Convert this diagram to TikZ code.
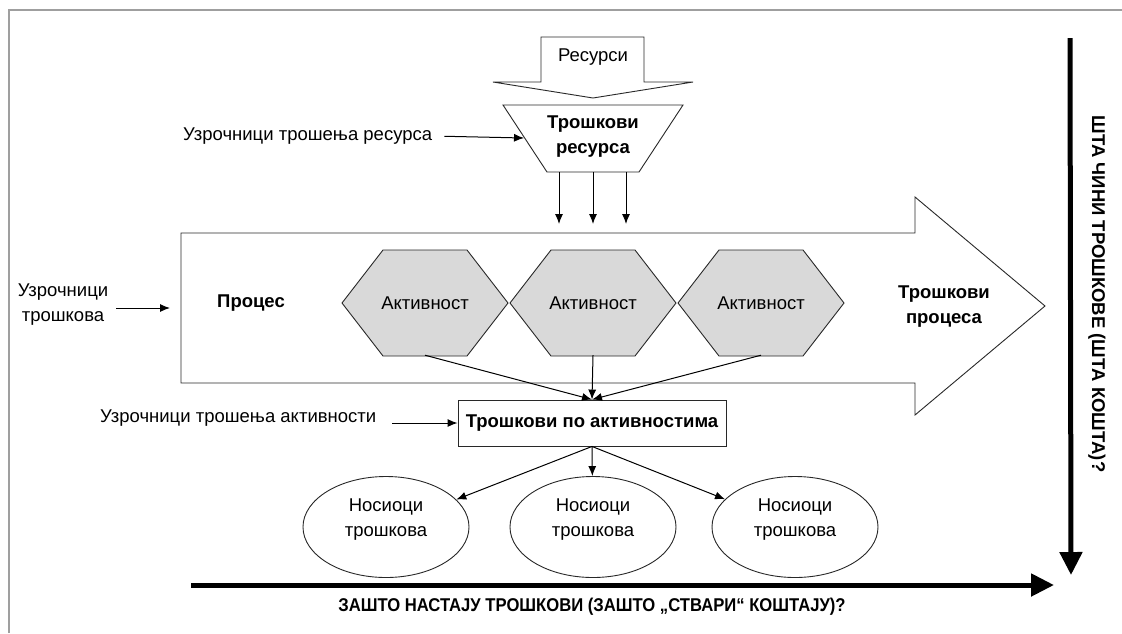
\documentclass[tikz,border=0pt]{standalone}
\usepackage{fontspec}
\setmainfont{Liberation Sans}
\newfontfamily\narrowbold[FakeStretch=0.90]{Liberation Sans}
\usetikzlibrary{arrows.meta,calc,shapes.geometric}
\definecolor{hexgray}{RGB}{217,217,217}
\definecolor{edge}{RGB}{40,40,40}
\tikzset{
  txt/.style={font=\fontsize{18.5}{25}\selectfont, inner sep=0pt, align=center},
  bld/.style={font=\fontsize{18.5}{25}\selectfont\bfseries, inner sep=0pt, align=center},
  outline/.style={draw=edge, line width=0.9pt},
  arr/.style={draw=black, line width=1pt, -{Latex[length=10pt,width=8pt]}},
  bigarr/.style={draw=black, line width=5pt, -{Triangle[length=23pt,width=22pt]}},
  hexbox/.style={minimum width=166pt, minimum height=104pt, inner sep=0pt, font=\fontsize{18.5}{25}\selectfont},
  carrier/.style={ellipse, outline, minimum width=166pt, minimum height=101pt, inner sep=0pt},
}
\begin{document}
\begin{tikzpicture}[x=1pt,y=-1pt]
\useasboundingbox (0,0) rectangle (1122,633);
\fill[white] (0,0) rectangle (1122,633);

% page frame
\draw[gray!75, line width=2pt] (9,633) -- (9,10) -- (1122,10);

% resources: block arrow pointing down
\draw[outline, fill=white] (541,37) -- (644,37) -- (644,82) -- (693,82) -- (593,98)
  -- (493,82) -- (541,82) -- cycle;
\node[txt] (res) at (593,57) {Ресурси};

% resource costs: trapezium
\draw[outline, fill=white] (503,105) -- (683,105) -- (639,172) -- (547,172) -- cycle;
\node[bld] (rc) at (593,137) {Трошкови\\ресурса};
\coordinate (rcL) at (524,138);
\coordinate (rcB1) at (559,172);
\coordinate (rcB2) at (593,172);
\coordinate (rcB3) at (626,172);
\coordinate (pT1) at (559,224);
\coordinate (pT2) at (593,224);
\coordinate (pT3) at (626,224);

% process: large block arrow
\draw[outline, fill=white] (181,233) -- (915,233) -- (915,197) -- (1045,306)
  -- (915,415) -- (915,383) -- (181,383) -- cycle;
\coordinate (procL) at (181,308);
\node[bld] (proc) at (251,303) {Процес};
\node[bld] (pcost) at (944,307) {Трошкови\\процеса};

% activities: hexagons
\foreach \n/\cx in {a1/425, a2/593, a3/761} {
  \draw[outline, fill=hexgray] (\cx-83,303) -- (\cx-42,250) -- (\cx+42,250)
    -- (\cx+83,303) -- (\cx+42,356) -- (\cx-42,356) -- cycle;
  \node[hexbox] (\n) at (\cx,303) {Активност};
}

% activity costs
\node[bld, outline, minimum width=268pt, minimum height=46pt] (ac) at (592,423)
  {Трошкови по активностима};

% cost carriers
\foreach \n/\cx in {c1/386, c2/593, c3/795} {
  \node[carrier] (\n) at (\cx,527) {};
  \node[txt] (\n t) at (\cx,520) {Носиоци\\трошкова};
}

% drivers
\node[txt, anchor=west] (d1) at (183,136) {Узрочници трошења ресурса};
\node[txt] (d0) at (63,305) {Узрочници\\трошкова};
\node[txt, anchor=west] (d2) at (100,418) {Узрочници трошења активности};

% connectors
\draw[arr, shorten <=12pt] (d1.east) -- (rcL);
\draw[arr] (rcB1) -- (pT1);
\draw[arr] (rcB2) -- (pT2);
\draw[arr] (rcB3) -- (pT3);
\draw[arr, shorten <=8pt, shorten >=11pt] (d0.east |- procL) -- (procL);
\draw[arr] (a1.south) -- (ac.north);
\draw[arr] (a2.south) -- (ac.north);
\draw[arr] (a3.south) -- (ac.north);
\draw[arr, shorten <=16pt] (d2.east |- ac.west) -- (ac.west);
\draw[arr] (ac.south) -- (c1);
\draw[arr] (ac.south) -- (c2);
\draw[arr] (ac.south) -- (c3);

% guiding questions
\coordinate (vTop) at (1070,38);
\coordinate (vEnd) at (1071,575);
\coordinate (hStart) at (191,585);
\coordinate (hEnd) at (1054,585);
\draw[bigarr] (vTop) -- (vEnd);
\draw[bigarr] (hStart) -- (hEnd);
\node[font=\fontsize{18.5}{24}\selectfont\bfseries, inner sep=0pt, rotate=-90] (qwhat) at (1097,294)
  {ШТА ЧИНИ ТРОШКОВЕ (ШТА КОШТА)?};
\node[font=\fontsize{18.5}{24}\narrowbold\bfseries, inner sep=0pt] (qwhy) at (592,607)
  {ЗАШТО НАСТАЈУ ТРОШКОВИ (ЗАШТО „СТВАРИ“ КОШТАЈУ)?};
\end{tikzpicture}
\end{document}
